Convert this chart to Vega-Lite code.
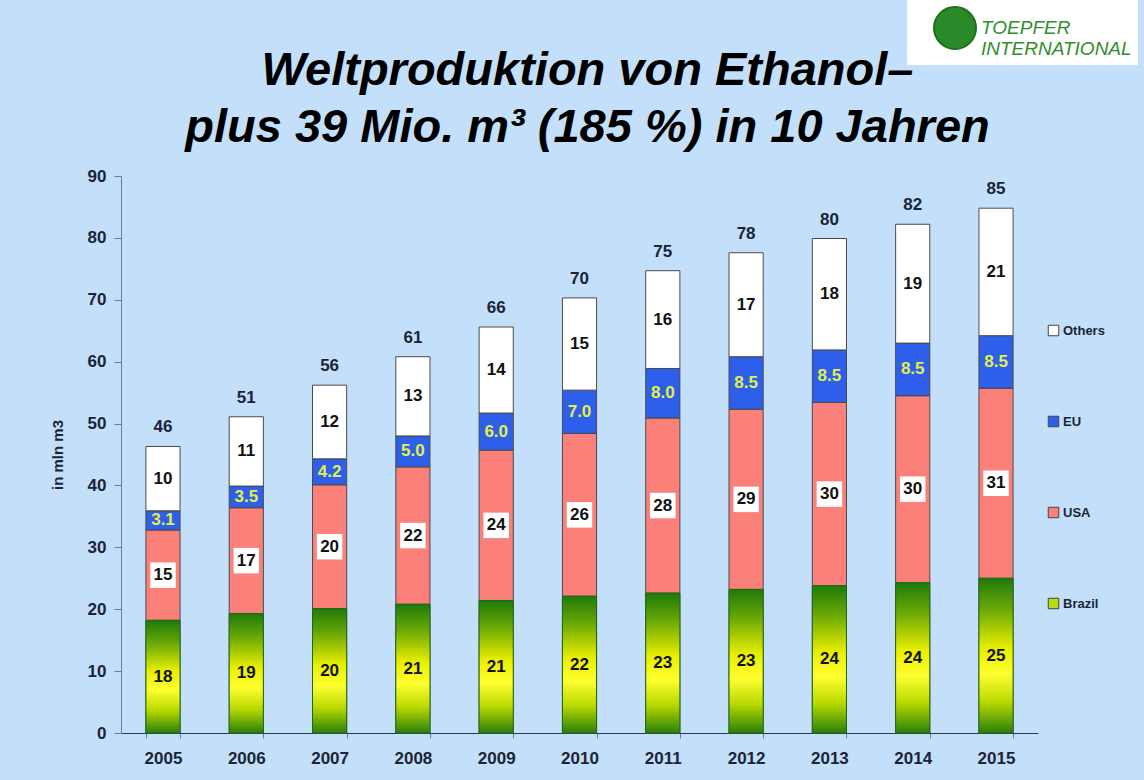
{
  "$schema": "https://vega.github.io/schema/vega-lite/v6.json",
  "width": 917,
  "height": 557,
  "autosize": {"type": "none"},
  "padding": {"left": 121, "top": 176, "right": 106, "bottom": 47},
  "background": "#c4dff9",
  "title": {
    "text": ["Weltproduktion von Ethanol–", "plus 39 Mio. m³ (185 %) in 10 Jahren"],
    "font": "Liberation Sans",
    "fontSize": 47,
    "fontStyle": "italic",
    "fontWeight": "bold",
    "lineHeight": 57,
    "anchor": "middle",
    "frame": "group",
    "dx": 8,
    "dy": 167,
    "offset": 15,
    "color": "#000000"
  },
  "config": {
    "view": {"stroke": null},
    "font": "Liberation Sans",
    "axisY": {
      "grid": false,
      "domainColor": "#6a7d95",
      "tickColor": "#6a7d95",
      "tickSize": 7,
      "labelFontSize": 17,
      "labelFontWeight": "bold",
      "labelColor": "#1a2436",
      "labelPadding": 8,
      "titleFontSize": 15,
      "titleFontWeight": "bold",
      "titleColor": "#1a2436",
      "titlePadding": 22
    },
    "axisX": {
      "grid": false,
      "domainColor": "#2a3850",
      "tickColor": "#6a7d95",
      "tickBand": "extent",
      "tickSize": 5,
      "labelAngle": 0,
      "labelFontSize": 17,
      "labelFontWeight": "bold",
      "labelColor": "#1a2436",
      "labelPadding": 12
    },
    "legend": {
      "orient": "none",
      "symbolType": "square",
      "labelFontWeight": "bold",
      "labelColor": "#1a2436"
    }
  },
  "data": {
    "values": [
      {"year": "2005", "series": "Brazil", "value": 18.2},
      {"year": "2005", "series": "USA", "value": 14.6},
      {"year": "2005", "series": "EU", "value": 3.1},
      {"year": "2005", "series": "Others", "value": 10.4},
      {"year": "2006", "series": "Brazil", "value": 19.3},
      {"year": "2006", "series": "USA", "value": 17.1},
      {"year": "2006", "series": "EU", "value": 3.5},
      {"year": "2006", "series": "Others", "value": 11.2},
      {"year": "2007", "series": "Brazil", "value": 20.1},
      {"year": "2007", "series": "USA", "value": 20.0},
      {"year": "2007", "series": "EU", "value": 4.2},
      {"year": "2007", "series": "Others", "value": 11.9},
      {"year": "2008", "series": "Brazil", "value": 20.8},
      {"year": "2008", "series": "USA", "value": 22.2},
      {"year": "2008", "series": "EU", "value": 5.0},
      {"year": "2008", "series": "Others", "value": 12.8},
      {"year": "2009", "series": "Brazil", "value": 21.4},
      {"year": "2009", "series": "USA", "value": 24.3},
      {"year": "2009", "series": "EU", "value": 6.0},
      {"year": "2009", "series": "Others", "value": 13.9},
      {"year": "2010", "series": "Brazil", "value": 22.1},
      {"year": "2010", "series": "USA", "value": 26.3},
      {"year": "2010", "series": "EU", "value": 7.0},
      {"year": "2010", "series": "Others", "value": 14.9},
      {"year": "2011", "series": "Brazil", "value": 22.6},
      {"year": "2011", "series": "USA", "value": 28.3},
      {"year": "2011", "series": "EU", "value": 8.0},
      {"year": "2011", "series": "Others", "value": 15.8},
      {"year": "2012", "series": "Brazil", "value": 23.2},
      {"year": "2012", "series": "USA", "value": 29.1},
      {"year": "2012", "series": "EU", "value": 8.5},
      {"year": "2012", "series": "Others", "value": 16.8},
      {"year": "2013", "series": "Brazil", "value": 23.8},
      {"year": "2013", "series": "USA", "value": 29.6},
      {"year": "2013", "series": "EU", "value": 8.5},
      {"year": "2013", "series": "Others", "value": 18.0},
      {"year": "2014", "series": "Brazil", "value": 24.3},
      {"year": "2014", "series": "USA", "value": 30.2},
      {"year": "2014", "series": "EU", "value": 8.5},
      {"year": "2014", "series": "Others", "value": 19.2},
      {"year": "2015", "series": "Brazil", "value": 25.0},
      {"year": "2015", "series": "USA", "value": 30.7},
      {"year": "2015", "series": "EU", "value": 8.5},
      {"year": "2015", "series": "Others", "value": 20.6}
    ]
  },
  "transform": [
    {"calculate": "indexof(['Brazil','USA','EU','Others'], datum.series)", "as": "ord"},
    {"stack": "value", "groupby": ["year"], "sort": [{"field": "ord", "order": "ascending"}], "as": ["v0", "v1"]},
    {"calculate": "(datum.v0 + datum.v1) / 2", "as": "mid"}
  ],
  "encoding": {
    "x": {
      "field": "year",
      "type": "ordinal",
      "title": null,
      "scale": {"paddingInner": 0.59, "paddingOuter": 0.299}
    }
  },
  "layer": [
    {
      "mark": {"type": "bar", "stroke": "#4a4a4a", "strokeWidth": 1},
      "encoding": {
        "y": {
          "field": "v1",
          "type": "quantitative",
          "title": "in mln m3",
          "scale": {"domain": [0, 90], "nice": false},
          "axis": {"values": [0, 10, 20, 30, 40, 50, 60, 70, 80, 90]}
        },
        "y2": {"field": "v0"},
        "color": {
          "field": "series",
          "type": "nominal",
          "title": null,
          "scale": {"domain": ["Others", "EU", "USA", "Brazil"], "range": ["#ffffff", "#2d5fea", "#fa8079", "#b4dc10"]},
          "legend": {
            "legendX": 926,
            "legendY": 148,
            "symbolSize": 110,
            "symbolStrokeColor": "#444444",
            "symbolStrokeWidth": 1,
            "labelFontSize": 13,
            "rowPadding": 76,
            "labelOffset": 3
          }
        },
        "opacity": {
          "datum": "TOEPFER INTERNATIONAL",
          "type": "nominal",
          "scale": {"range": [1]},
          "legend": {
            "title": null,
            "legendX": 786,
            "legendY": -176,
            "fillColor": "#ffffff",
            "padding": 6,
            "symbolType": "circle",
            "symbolSize": 1760,
            "symbolFillColor": "#2a8a2a",
            "symbolStrokeColor": "#1d6e1d",
            "symbolStrokeWidth": 2,
            "symbolOffset": 20,
            "symbolOpacity": 1,
            "labelExpr": "split(datum.label, ' ')",
            "labelFontSize": 19,
            "labelFontStyle": "italic",
            "labelFontWeight": "normal",
            "labelColor": "#2e8e2e",
            "labelOffset": 4,
            "labelLimit": 300
          }
        }
      }
    },
    {
      "transform": [{"filter": "datum.series === 'Brazil'"}],
      "mark": {
        "type": "bar",
        "stroke": "#1f6a10",
        "strokeWidth": 1,
        "color": {
          "gradient": "linear",
          "x1": 0, "y1": 0, "x2": 0, "y2": 1,
          "stops": [
            {"offset": 0, "color": "#1f7a0a"},
            {"offset": 0.2, "color": "#6aa806"},
            {"offset": 0.45, "color": "#e8ee00"},
            {"offset": 0.62, "color": "#ffff30"},
            {"offset": 0.8, "color": "#b8d800"},
            {"offset": 1, "color": "#2a800a"}
          ]
        }
      },
      "encoding": {
        "y": {"field": "v1", "type": "quantitative", "title": "in mln m3"},
        "y2": {"field": "v0"}
      }
    },
    {
      "transform": [{"filter": "datum.series === 'USA'"}],
      "mark": {"type": "point", "shape": "square", "filled": true, "color": "#ffffff", "opacity": 1, "size": 650},
      "encoding": {
        "y": {"field": "mid", "type": "quantitative", "title": "in mln m3"}
      }
    },
    {
      "transform": [{"filter": "datum.series !== 'EU'"}],
      "mark": {"type": "text", "fontSize": 17, "fontWeight": "bold", "color": "#111111", "baseline": "middle"},
      "encoding": {
        "y": {"field": "mid", "type": "quantitative", "title": "in mln m3"},
        "text": {"field": "value", "type": "quantitative", "format": ".0f"}
      }
    },
    {
      "transform": [{"filter": "datum.series === 'EU'"}],
      "mark": {"type": "text", "fontSize": 17, "fontWeight": "bold", "color": "#e2f04a", "baseline": "middle"},
      "encoding": {
        "y": {"field": "mid", "type": "quantitative", "title": "in mln m3"},
        "text": {"field": "value", "type": "quantitative", "format": ".1f"}
      }
    },
    {
      "transform": [{"aggregate": [{"op": "sum", "field": "value", "as": "total"}], "groupby": ["year"]}],
      "mark": {"type": "text", "fontSize": 17, "fontWeight": "bold", "color": "#1a2436", "baseline": "alphabetic", "dy": -14},
      "encoding": {
        "y": {"field": "total", "type": "quantitative", "title": "in mln m3"},
        "text": {"field": "total", "type": "quantitative", "format": ".0f"}
      }
    }
  ]
}
